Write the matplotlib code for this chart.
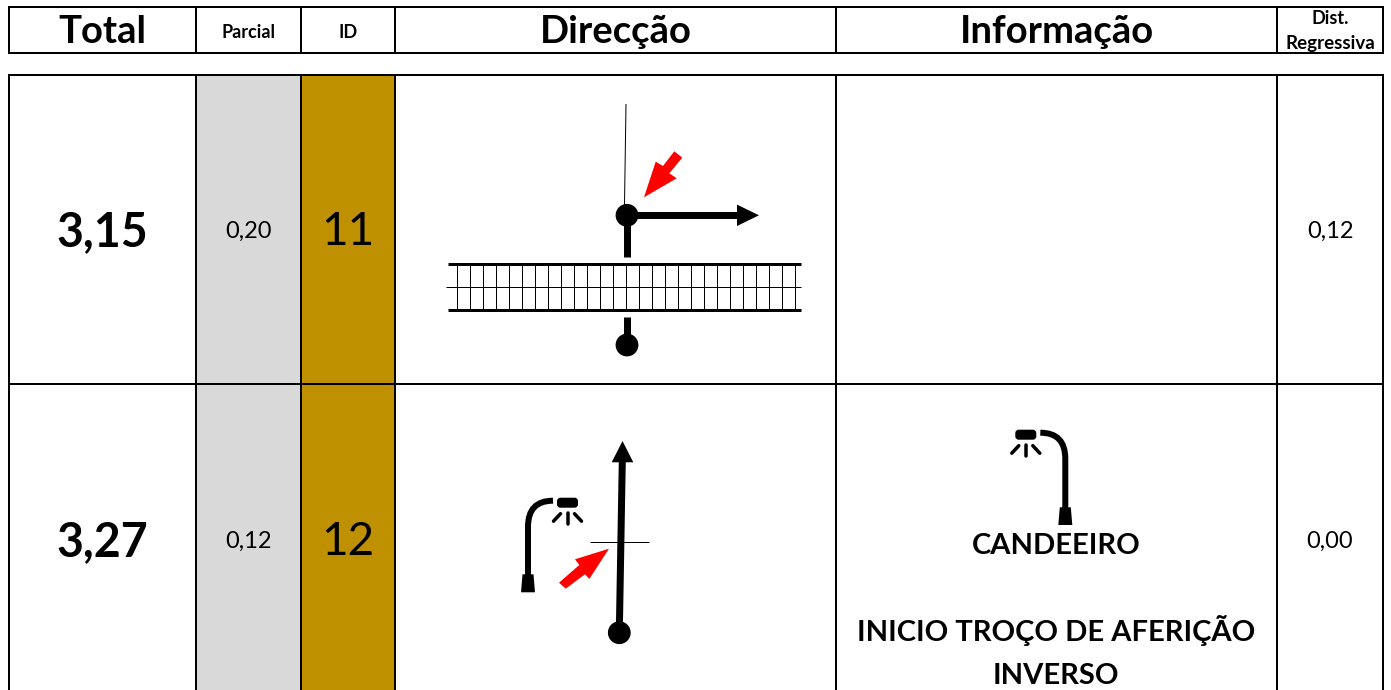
import matplotlib
matplotlib.use('Agg')
import matplotlib.pyplot as plt
from matplotlib.patches import Polygon, Circle, Rectangle, FancyBboxPatch, PathPatch
from matplotlib.path import Path

plt.rcParams['font.family'] = ['Lato', 'DejaVu Sans']

# Dados da tabela
cabecalho = ['Total', 'Parcial', 'ID', 'Direcção', 'Informação', 'Dist.\nRegressiva']
total = ['3,15', '3,27']
parcial = ['0,20', '0,12']
ids = ['11', '12']
dist_reg = ['0,12', '0,00']
info_1 = 'CANDEEIRO'
info_2 = 'INICIO TROÇO DE AFERIÇÃO'
info_3 = 'INVERSO'

# Colunas e linhas em pixeis
col_x = [9, 196, 301, 395, 836, 1277, 1383]
linha_y = [75, 384, 700]
cinza = '#d9d9d9'
dourado = '#bf9000'
vermelho = '#ff0000'

fig = plt.figure(figsize=(13.91, 6.9), dpi=100)
ax = fig.add_axes([0, 0, 1, 1])
ax.set_xlim(0, 1391)
ax.set_ylim(690, 0)
ax.axis('off')

PX = 0.72  # 1 pixel em pontos


def linha(xs, ys, w=2, c='black', cap='butt'):
    ax.plot(xs, ys, color=c, lw=w * PX, solid_capstyle=cap, zorder=4)


def centro(i):
    return (col_x[i] + col_x[i + 1]) / 2


def candeeiro(base_x, flip):
    # flip = 1 candeeiro virado para a direita, -1 virado para a esquerda
    s = flip
    y_base = 592.3 if s == 1 else 525
    y_pe = 574.3 if s == 1 else 507.3
    ax.add_patch(Polygon([(base_x - 7, y_base), (base_x + 7, y_base),
                          (base_x + 5.5, y_pe), (base_x - 5.5, y_pe)],
                         color='black', lw=0, zorder=4))
    y_curva = 526.7 if s == 1 else 458.7
    y_topo = 500.7 if s == 1 else 432.7
    x_fim = base_x + s * 25
    p = Path([(base_x, y_pe + 1), (base_x, y_curva), (base_x, y_topo), (x_fim, y_topo)],
             [Path.MOVETO, Path.LINETO, Path.CURVE3, Path.CURVE3])
    ax.add_patch(PathPatch(p, fill=False, lw=6 * PX, ec='black', zorder=4, capstyle='butt'))
    cx = x_fim + s * 14.5
    ax.add_patch(FancyBboxPatch((cx - 9.5, y_topo - 2), 19, 8, boxstyle='round,pad=0,rounding_size=2.5',
                                fc='black', ec='black', lw=2 * PX, zorder=4))
    raio_y = y_topo + 12
    linha([cx - 14, cx - 7], [raio_y + 8.5, raio_y + 1], 3.5, cap='round')
    linha([cx, cx], [raio_y, raio_y + 11], 3.5, cap='round')
    linha([cx + 7, cx + 14], [raio_y + 1, raio_y + 8.5], 3.5, cap='round')


# Fundos
for a, b in zip(linha_y[:-1], linha_y[1:]):
    ax.add_patch(Rectangle((col_x[1], a), col_x[2] - col_x[1], b - a, color=cinza, lw=0))
    ax.add_patch(Rectangle((col_x[2], a), col_x[3] - col_x[2], b - a, color=dourado, lw=0))

# Grelha
for x in col_x:
    linha([x, x], [7, 53])
    linha([x, x], [linha_y[0], 690])
for y in [7, 53, linha_y[0], linha_y[1]]:
    linha([col_x[0] - 1, col_x[-1] + 1], [y, y])

# Cabecalho
tam_cab = [27.5, 13, 13, 27.5, 27.5, 13.5]
for i, txt in enumerate(cabecalho):
    if i == 5:
        ax.text(centro(i), 18, 'Dist.', ha='center', va='center', fontsize=13, fontweight='bold')
        ax.text(centro(i), 43, 'Regressiva', ha='center', va='center', fontsize=13.5, fontweight='bold')
    else:
        ax.text(centro(i), 32, txt, ha='center', va='center', fontsize=tam_cab[i], fontweight='bold')

# Linhas da tabela
y_txt = [232, 542]
for k in range(2):
    ax.text(centro(0), y_txt[k], total[k], ha='center', va='center', fontsize=33.5, fontweight='bold')
    ax.text(centro(1), y_txt[k] - 1, parcial[k], ha='center', va='center', fontsize=17)
    ax.text(centro(2), y_txt[k], ids[k], ha='center', va='center', fontsize=33)
    ax.text(centro(5), y_txt[k] - 1, dist_reg[k], ha='center', va='center', fontsize=17)

# Texto informacao
ax.text(1056, 546, info_1, ha='center', va='center', fontsize=21, fontweight='bold')
ax.text(1056, 630, info_2, ha='center', va='center', fontsize=21, fontweight='bold')
ax.text(1056, 676, info_3, ha='center', va='center', fontsize=21, fontweight='bold')

# Esquema 1: estrada com viragem
linha([626, 624.5], [104, 205], 1)
ax.add_patch(Circle((627, 215.3), 10.7, color='black', zorder=5))
ax.add_patch(Circle((627, 345), 10.7, color='black', zorder=5))
linha([627, 738], [215.3, 215.3], 7)
ax.add_patch(Polygon([(737, 204.6), (759, 215.3), (737, 226)], color='black', lw=0, zorder=4))
linha([627, 627], [215, 257], 7)
linha([627, 627], [317, 345], 7)
linha([448, 801], [263.7, 263.7], 3)
linha([448, 801], [310, 310], 3)
linha([446, 801], [286.7, 286.7], 1)
for n in range(27):
    xv = 456.7 + n * 13
    linha([xv, xv], [264, 310], 1)
ax.add_patch(Polygon([(644, 197.3), (655.7, 161.7), (663, 166), (674.3, 151.3), (682.3, 157.7),
                      (669.3, 173.3), (676.7, 178.3)], color=vermelho, lw=0, zorder=5))

# Esquema 2: candeeiro e seta
linha([619.3, 622.3], [632.7, 460], 7)
ax.add_patch(Polygon([(611.7, 462.3), (622.5, 441), (633.3, 462.3)], color='black', lw=0, zorder=4))
ax.add_patch(Circle((619.3, 632.7), 10.7, color='black', zorder=5))
linha([590, 648.7], [542.3, 542.3], 1)
ax.add_patch(Polygon([(609, 548.7), (575, 559.3), (579.3, 565), (559, 582.7), (565.7, 588.7),
                      (585, 574.3), (589.3, 579)], color=vermelho, lw=0, zorder=5))
candeeiro(528, 1)
candeeiro(1065.3, -1)

fig.savefig('out.png', dpi=100)
